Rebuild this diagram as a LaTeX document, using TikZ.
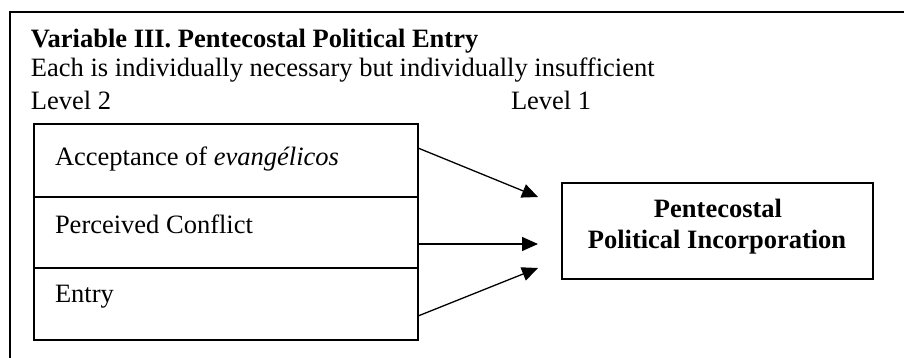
\documentclass[tikz,border=0pt]{standalone}
\usepackage{fontspec}
\setmainfont{Liberation Serif}
\usetikzlibrary{arrows.meta,calc}
\newcommand\txtsz{\fontsize{13.25}{15.5}\selectfont}
\begin{document}
\begin{tikzpicture}[x=0.5pt,y=-0.5pt,
  every node/.style={inner sep=0pt,outer sep=0pt,font=\txtsz},
  txt/.style={anchor=base west},
  btxt/.style={anchor=base,font=\txtsz\bfseries},
  rowbox/.style={draw,line width=0.75pt,minimum width=192pt},
  outbox/.style={draw,line width=1.1pt,minimum width=155.5pt,minimum height=48pt},
  conn/.style={line width=0.65pt,-{Triangle[length=8pt,width=7pt]}}]
\useasboundingbox (0,0) rectangle (904,358);
\draw[line width=1pt] (10,358) -- (10,12) -- (904,12);
% heading
\node[txt,font=\txtsz\bfseries] (title) at (31,48) {Variable III. Pentecostal Political Entry};
\node[txt] (sub) at (31,77) {Each is individually necessary but individually insufficient};
\node[txt] (lv2) at (31,110) {Level 2};
\node[txt] (lv1) at (511,110) {Level 1};
% level 2 boxes
\node[rowbox,minimum height=36.5pt] (r1) at (226,160.5) {};
\node[rowbox,minimum height=35.5pt] (r2) at (226,232.5) {};
\node[rowbox,minimum height=36pt] (r3) at (226,304) {};
\node[txt] (t1) at (55,165) {Acceptance of \textit{evangélicos}};
\node[txt] (t2) at (55,233) {Perceived Conflict};
\node[txt] (t3) at (55,302) {Entry};
% level 1 box
\node[outbox] (pi) at (717.5,231) {};
\node[btxt] (p1) at (718,217) {Pentecostal};
\node[btxt] (p2) at (717,248) {Political Incorporation};
% connectors
\draw[conn] ($(r1.east)+(0,-12.5)$) -- ($(pi.west)+(-24,-34)$);
\draw[conn] ($(r2.east)+(0,11.5)$) -- ($(pi.west)+(-24,13)$);
\draw[conn] ($(r3.east)+(0,12)$) -- ($(pi.west)+(-24,37)$);
\end{tikzpicture}
\end{document}
